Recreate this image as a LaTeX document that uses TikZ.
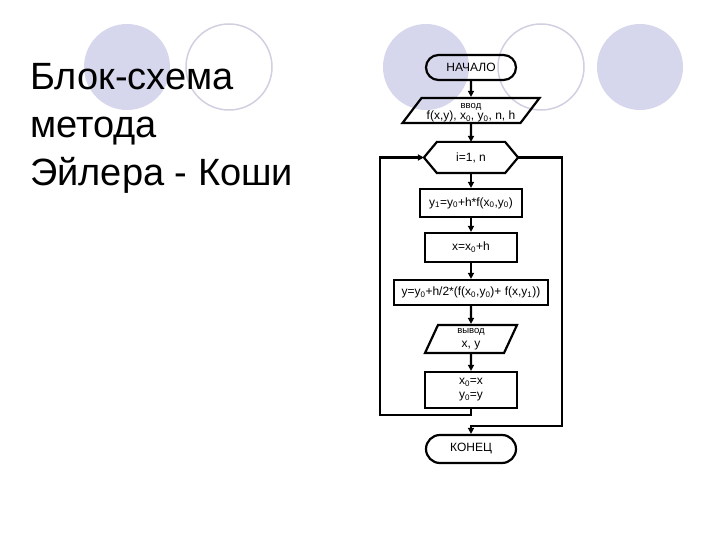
\documentclass[tikz,border=0pt]{standalone}
\usepackage{fontspec}
\setmainfont{Liberation Sans}
\usepackage{xcolor}
\usetikzlibrary{arrows.meta,positioning,shapes.geometric,shapes.misc}

\definecolor{disc}{RGB}{214,214,236}
\definecolor{ring}{RGB}{208,208,224}

\tikzset{
  block/.style={draw, line width=2.2pt, inner sep=1pt, align=center,
    font=\fontsize{12}{13}\selectfont},
  term/.style={block, rounded rectangle, minimum width=92pt},
  io/.style={block, trapezium, trapezium stretches body},
  proc/.style={block, rectangle},
  loophex/.style={block, draw=none, minimum width=92pt, minimum height=29pt},
  edge line/.style={line width=2.2pt},
  flow/.style={edge line, -{Triangle[length=6pt,width=6pt]}},
  title/.style={anchor=base west, inner sep=0pt, font=\fontsize{38}{46}\selectfont}
}

\begin{document}
\begin{tikzpicture}[x=1pt,y=-1pt]
    \useasboundingbox (0,0) rectangle (720,540);

    % Decorative circles
    \foreach \cx in {127,426,640} {
        \fill[disc] (\cx,67) circle (43pt);
    }
    \foreach \cx in {229,541} {
        \draw[ring,line width=1.5pt] (\cx,67) circle (43pt);
    }

    % Title
    \node[title] (t1) at (30,90) {Блок-схема};
    \node[title] (t2) at (30,138) {метода};
    \node[title] (t3) at (30,186) {Эйлера - Коши};

    % Flowchart blocks
    \node[term, minimum height=25pt] (start) at (471,67.5) {НАЧАЛО};
    \node[io, minimum width=137pt, minimum height=25pt, inner sep=0pt,
        trapezium left angle=51, trapezium right angle=129] (in) at (471,110.5)
        {{\fontsize{9.5}{9}\selectfont\rule{0pt}{10pt}ввод}\\[-2pt]
         f(x,y), x\textsubscript{0}, y\textsubscript{0}, n, h};
    \node[loophex] (hex) at (471,157.5) {i=1, n};
    \draw[edge line, line join=miter] (hex.west) -- ([xshift=13pt]hex.north west)
        -- ([xshift=-13pt]hex.north east) -- (hex.east)
        -- ([xshift=-13pt]hex.south east) -- ([xshift=13pt]hex.south west) -- cycle;
    \node[proc, minimum width=102pt, minimum height=28pt] (s1) at (471,203)
        {y\textsubscript{1}=y\textsubscript{0}+h*f(x\textsubscript{0},y\textsubscript{0})};
    \node[proc, minimum width=92pt, minimum height=29pt] (s2) at (471,247.5)
        {x=x\textsubscript{0}+h};
    \node[proc, minimum width=154pt, minimum height=25pt] (s3) at (471,292.5)
        {y=y\textsubscript{0}+h/2*(f(x\textsubscript{0},y\textsubscript{0})+ f(x,y\textsubscript{1}))};
    \node[io, minimum width=92pt, minimum height=28pt, inner sep=0pt,
        trapezium left angle=59, trapezium right angle=121] (out) at (471,339)
        {{\fontsize{9.5}{9}\selectfont вывод}\\[1pt] x, y};
    \node[proc, minimum width=92pt, minimum height=36pt] (upd) at (471,390)
        {x\textsubscript{0}=x\\[1pt] y\textsubscript{0}=y};
    \node[term, minimum height=28pt] (stop) at (471,449) {КОНЕЦ};

    % Main chain
    \foreach \a/\b in {start/in, in/hex, hex/s1, s1/s2, s2/s3, s3/out, out/upd} {
        \draw[flow] (\a) -- (\b);
    }

    % Loop back and exit
    \coordinate (loopL) at (380,415);
    \coordinate (loopR) at (562,426);
    \draw[flow] (upd.south) |- (loopL) |- (hex.west);
    \draw[flow] (hex.east) -| (loopR) -| (stop.north);
\end{tikzpicture}
\end{document}
